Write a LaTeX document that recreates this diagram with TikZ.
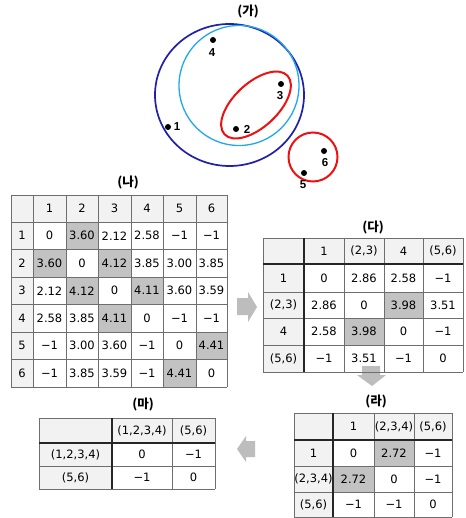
\documentclass[tikz,border=0pt]{standalone}
\usepackage{fontspec}
\setmainfont{DejaVu Sans}
\newfontfamily\krfont{Noto Sans CJK KR}
\newfontfamily\labfont{Liberation Sans}
\definecolor{hdr}{HTML}{F2F2F2}
\definecolor{hl}{HTML}{C2C2C2}
\definecolor{gridc}{HTML}{6E6E6E}
\definecolor{arrowgray}{HTML}{BDBDBD}
\definecolor{cblue}{HTML}{2020A8}
\definecolor{ccyan}{HTML}{20A8EC}
\definecolor{cred}{HTML}{EE1111}
\tikzset{
 cell/.style={inner sep=0pt, font=\fontsize{11.5}{11.5}\selectfont},
 ttl/.style={inner sep=0pt, font=\krfont\bfseries\fontsize{12.5}{12.5}\selectfont},
 dot/.style={circle, fill=black, inner sep=0pt, minimum size=6pt},
 plab/.style={inner sep=0pt, font=\labfont\bfseries\fontsize{11.5}{11.5}\selectfont},
 gridline/.style={draw=gridc, line width=0.7pt},
 sepline/.style={draw=black!85, line width=1.3pt},
 blockarrow/.style={fill=arrowgray},
}
\newcommand\tbl[4]{%
 \foreach[count=\r from 0] \row in {#4}{%
  \foreach[count=\c from 0] \v in \row{%
   \if\relax\detokenize\expandafter{\v}\relax\else
    \pgfmathsetmacro\xa{{#2}[\c]}\pgfmathsetmacro\xb{{#2}[\c+1]}%
    \pgfmathsetmacro\ya{{#3}[\r]}\pgfmathsetmacro\yb{{#3}[\r+1]}%
    \pgfmathsetmacro\cx{(\xa+\xb)/2}%
    \pgfmathsetmacro\cy{(\ya+\yb)/2}%
    \node[cell] (#1-\r-\c) at (\cx,\cy) {\v};
   \fi
  }}}
\newcommand\fillcell[5]{%
 \pgfmathsetmacro\xa{{#2}[#5]}\pgfmathsetmacro\xb{{#2}[#5+1]}%
 \pgfmathsetmacro\ya{{#3}[#4]}\pgfmathsetmacro\yb{{#3}[#4+1]}%
 \fill[#1] (\xa,\ya) rectangle (\xb,\yb);}
\begin{document}
\begin{tikzpicture}[x=1pt,y=-1pt]
\useasboundingbox[fill=white] (0,0) rectangle (465,518);

% ---------- (가) ----------
\node[ttl] (tga) at (248,12) {(가)};
\draw[cblue, line width=1.7pt] (229.5,95) ellipse (74.5 and 71);
\draw[ccyan, line width=1.3pt] (239,85.5) circle (60);
\draw[cred, line width=2pt, rotate around={43:(256,105)}] (256,105) ellipse (43 and 22);
\draw[cred, line width=2pt] (313,157) circle (24.5);
\node[dot] (p1) at (168,127) {};
\node[dot] (p2) at (236,129) {};
\node[dot] (p3) at (281,84) {};
\node[dot] (p4) at (213,40) {};
\node[dot] (p5) at (304,173) {};
\node[dot] (p6) at (324,151) {};
\node[plab] (l1) at (177,127) {1};
\node[plab] (l2) at (247,129) {2};
\node[plab] (l3) at (280,96) {3};
\node[plab] (l4) at (212,53) {4};
\node[plab] (l5) at (303,185) {5};
\node[plab] (l6) at (325,163) {6};

% ---------- (나) ----------
\node[ttl] (tna) at (128,183) {(나)};
\fill[hdr] (11,195) rectangle (227,222);
\fill[hdr] (11,195) rectangle (33,387);
\fillcell{hl}{11,33,66,98,131,163,196,227}{195,222,249.5,277,304.5,332,359.5,387}{1}{2}
\fillcell{hl}{11,33,66,98,131,163,196,227}{195,222,249.5,277,304.5,332,359.5,387}{2}{1}
\fillcell{hl}{11,33,66,98,131,163,196,227}{195,222,249.5,277,304.5,332,359.5,387}{2}{3}
\fillcell{hl}{11,33,66,98,131,163,196,227}{195,222,249.5,277,304.5,332,359.5,387}{3}{2}
\fillcell{hl}{11,33,66,98,131,163,196,227}{195,222,249.5,277,304.5,332,359.5,387}{3}{4}
\fillcell{hl}{11,33,66,98,131,163,196,227}{195,222,249.5,277,304.5,332,359.5,387}{4}{3}
\fillcell{hl}{11,33,66,98,131,163,196,227}{195,222,249.5,277,304.5,332,359.5,387}{5}{6}
\fillcell{hl}{11,33,66,98,131,163,196,227}{195,222,249.5,277,304.5,332,359.5,387}{6}{5}
\foreach \x in {11,33,66,98,131,163,196,227} \draw[gridline] (\x,195) -- (\x,387);
\foreach \y in {195,222,249.5,277,304.5,332,359.5,387} \draw[gridline] (11,\y) -- (227,\y);
\tbl{na}{11,33,66,98,131,163,196,227}{195,222,249.5,277,304.5,332,359.5,387}{%
 {{},1,2,3,4,5,6},
 {1,0,3.60,2.12,2.58,−1,−1},
 {2,3.60,0,4.12,3.85,3.00,3.85},
 {3,2.12,4.12,0,4.11,3.60,3.59},
 {4,2.58,3.85,4.11,0,−1,−1},
 {5,−1,3.00,3.60,−1,0,4.41},
 {6,−1,3.85,3.59,−1,4.41,0}}

% arrow right
\fill[blockarrow] (237,298) -- (248,298) -- (248,292) -- (257,307) -- (248,322) -- (248,315) -- (237,315) -- cycle;

% ---------- (다) ----------
\node[ttl] (tda) at (373,228) {(다)};
\fill[hdr] (263,238) rectangle (463,264);
\fill[hdr] (263,238) rectangle (304,372);
\fillcell{hl}{263,304,344,384,423,463}{238,264,292,318,345,372}{2}{3}
\fillcell{hl}{263,304,344,384,423,463}{238,264,292,318,345,372}{3}{2}
\fill[blockarrow] (362,366) -- (380,366) -- (380,375) -- (386,375) -- (372,386) -- (357,375) -- (362,375) -- cycle;
\foreach \x in {263,344,384,423,463} \draw[gridline] (\x,238) -- (\x,372);
\foreach \y in {238,292,318,345,372} \draw[gridline] (263,\y) -- (463,\y);
\draw[sepline] (304,238) -- (304,372);
\draw[sepline] (263,264) -- (463,264);
\tbl{da}{263,304,344,384,423,463}{238,264,292,318,345,372}{%
 {{},1,{(2,3)},4,{(5,6)}},
 {1,0,2.86,2.58,−1},
 {{(2,3)},2.86,0,3.98,3.51},
 {4,2.58,3.98,0,−1},
 {{(5,6)},−1,3.51,−1,0}}

% ---------- (라) ----------
\node[ttl] (tra) at (376,401) {(라)};
\fill[hdr] (294,413) rectangle (452,440);
\fill[hdr] (294,413) rectangle (333,517);
\fillcell{hl}{294,333,374,414,452}{413,440,466,492,517}{1}{2}
\fillcell{hl}{294,333,374,414,452}{413,440,466,492,517}{2}{1}
\foreach \x in {294,374,414,452} \draw[gridline] (\x,413) -- (\x,517);
\foreach \y in {413,466,492,517} \draw[gridline] (294,\y) -- (452,\y);
\draw[sepline] (333,413) -- (333,517);
\draw[sepline] (294,440) -- (452,440);
\tbl{ra}{294,333,374,414,452}{413,440,466,492,517}{%
 {{},1,{(2,3,4)},{(5,6)}},
 {1,0,2.72,−1},
 {{(2,3,4)},2.72,0,−1},
 {{(5,6)},−1,−1,0}}

% arrow left
\fill[blockarrow] (237,449) -- (246,436) -- (246,441) -- (255,441) -- (255,457) -- (246,457) -- (246,462) -- cycle;

% ---------- (마) ----------
\node[ttl] (tma) at (143,405) {(마)};
\fill[hdr] (39,418) rectangle (215,443);
\fill[hdr] (39,418) rectangle (112,489);
\foreach \x in {39,172,215} \draw[gridline] (\x,418) -- (\x,489);
\foreach \y in {418,466,489} \draw[gridline] (39,\y) -- (215,\y);
\draw[sepline] (112,418) -- (112,489);
\draw[sepline] (39,443) -- (215,443);
\tbl{ma}{39,112,172,215}{418,443,466,489}{%
 {{},{(1,2,3,4)},{(5,6)}},
 {{(1,2,3,4)},0,−1},
 {{(5,6)},−1,0}}
\end{tikzpicture}
\end{document}
